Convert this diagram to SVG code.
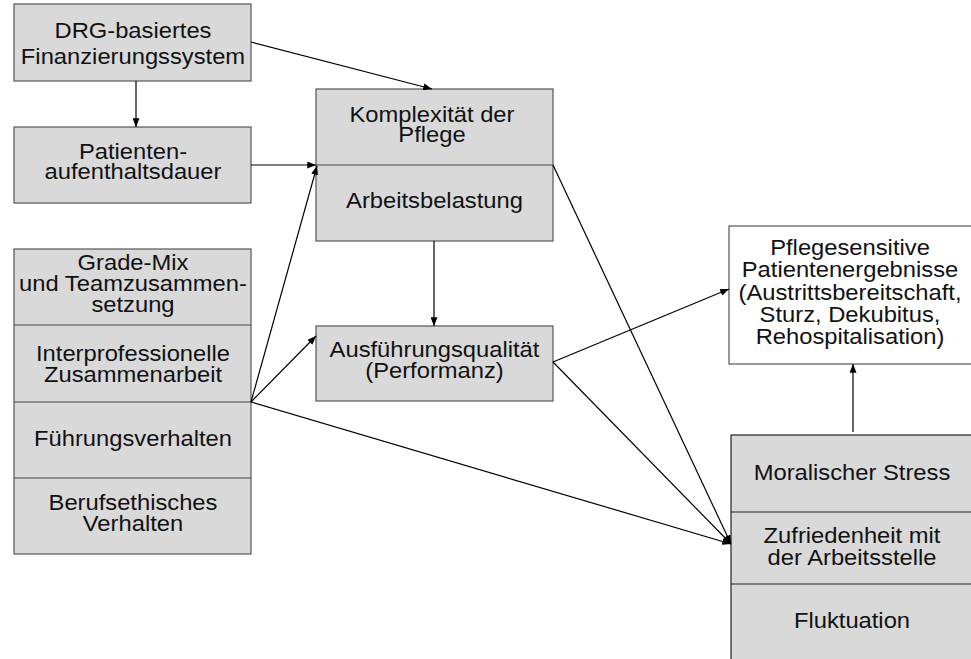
<svg xmlns="http://www.w3.org/2000/svg" width="971" height="659" viewBox="0 0 971 659">
<style>
.box{fill:#d9d9d9;stroke:#555;stroke-width:1.2}
.wbox{fill:#fff;stroke:#555;stroke-width:1.2}
.div{stroke:#444;stroke-width:1.2;fill:none}
.t{font-family:"Liberation Sans",Arial,sans-serif;font-size:22px;fill:#111;text-anchor:middle}
.c{stroke:#000;stroke-width:1.2;fill:none;marker-end:url(#ah)}
</style>
<defs>
<marker id="ah" viewBox="0 0 10 8" refX="10" refY="4" markerWidth="9" markerHeight="7" markerUnits="userSpaceOnUse" orient="auto">
<path d="M0,0 L10,4 L0,8 z" fill="#000"/>
</marker>
</defs>
<rect width="971" height="659" fill="#fff"/>

<g id="drg">
<rect class="box" x="14" y="4" width="237" height="77"/>
<text class="t" transform="translate(133 37.5) scale(1.08 1)"><tspan x="0" y="0">DRG-basiertes</tspan><tspan x="0" y="27">Finanzierungssystem</tspan></text>
</g>

<g id="aufenthalt">
<rect class="box" x="14" y="127" width="237" height="76"/>
<text class="t" transform="translate(133 158.5) scale(1.08 1)"><tspan x="0" y="0">Patienten-</tspan><tspan x="0" y="21">aufenthaltsdauer</tspan></text>
</g>

<g id="komplexitaet">
<rect class="box" x="316" y="89" width="237" height="152"/>
<line class="div" x1="316" y1="165" x2="553" y2="165"/>
<text class="t" transform="translate(432 121.5) scale(1.08 1)"><tspan x="0" y="0">Komplexität der</tspan><tspan x="0" y="20.5">Pflege</tspan></text>
<text class="t" transform="translate(434.5 208) scale(1.08 1)">Arbeitsbelastung</text>
</g>

<g id="ausfuehrung">
<rect class="box" x="316" y="326" width="237" height="75"/>
<text class="t" transform="translate(434.5 357) scale(1.08 1)"><tspan x="0" y="0">Ausführungsqualität</tspan><tspan x="0" y="21">(Performanz)</tspan></text>
</g>

<g id="faktoren">
<rect class="box" x="14" y="249" width="237" height="305"/>
<line class="div" x1="14" y1="325" x2="251" y2="325"/>
<line class="div" x1="14" y1="402" x2="251" y2="402"/>
<line class="div" x1="14" y1="478" x2="251" y2="478"/>
<text class="t" transform="translate(133 269.5) scale(1.08 1)"><tspan x="0" y="0">Grade-Mix</tspan><tspan x="0" y="21.5">und Teamzusammen-</tspan><tspan x="0" y="43">setzung</tspan></text>
<text class="t" transform="translate(133 361) scale(1.08 1)"><tspan x="0" y="0">Interprofessionelle</tspan><tspan x="0" y="21">Zusammenarbeit</tspan></text>
<text class="t" transform="translate(133 446) scale(1.08 1)">Führungsverhalten</text>
<text class="t" transform="translate(133 510) scale(1.08 1)"><tspan x="0" y="0">Berufsethisches</tspan><tspan x="0" y="21.5">Verhalten</tspan></text>
</g>

<g id="patientenergebnisse">
<rect class="wbox" x="729" y="226" width="260" height="138"/>
<text class="t" transform="translate(850 255) scale(1.08 1)"><tspan x="0" y="0">Pflegesensitive</tspan><tspan x="0" y="22.5">Patientenergebnisse</tspan><tspan x="0" y="45">(Austrittsbereitschaft,</tspan><tspan x="0" y="67">Sturz, Dekubitus,</tspan><tspan x="0" y="89.5">Rehospitalisation)</tspan></text>
</g>

<g id="mitarbeiter">
<rect class="box" x="731" y="435" width="260" height="240" style="stroke:#222"/>
<line class="div" x1="731" y1="512" x2="971" y2="512" style="stroke:#222"/>
<line class="div" x1="731" y1="584" x2="971" y2="584" style="stroke:#222"/>
<text class="t" transform="translate(852 480) scale(1.08 1)">Moralischer Stress</text>
<text class="t" transform="translate(852 543) scale(1.08 1)"><tspan x="0" y="0">Zufriedenheit mit</tspan><tspan x="0" y="22">der Arbeitsstelle</tspan></text>
<text class="t" transform="translate(852 628) scale(1.08 1)">Fluktuation</text>
</g>

<g id="connectors">
<line class="c" x1="251" y1="42" x2="432" y2="89"/>
<line class="c" x1="136" y1="81" x2="136" y2="127"/>
<line class="c" x1="251" y1="165" x2="316" y2="165"/>
<line class="c" x1="251" y1="402" x2="317" y2="166"/>
<line class="c" x1="251" y1="402" x2="316" y2="336"/>
<line class="c" x1="251" y1="402" x2="731" y2="544"/>
<line class="c" x1="434" y1="241" x2="434" y2="326"/>
<line class="c" x1="553" y1="165" x2="731" y2="544"/>
<line class="c" x1="553" y1="362" x2="731" y2="544"/>
<line class="c" x1="553" y1="362" x2="729" y2="289"/>
<line class="c" x1="853" y1="432" x2="853" y2="364"/>
</g>
</svg>
